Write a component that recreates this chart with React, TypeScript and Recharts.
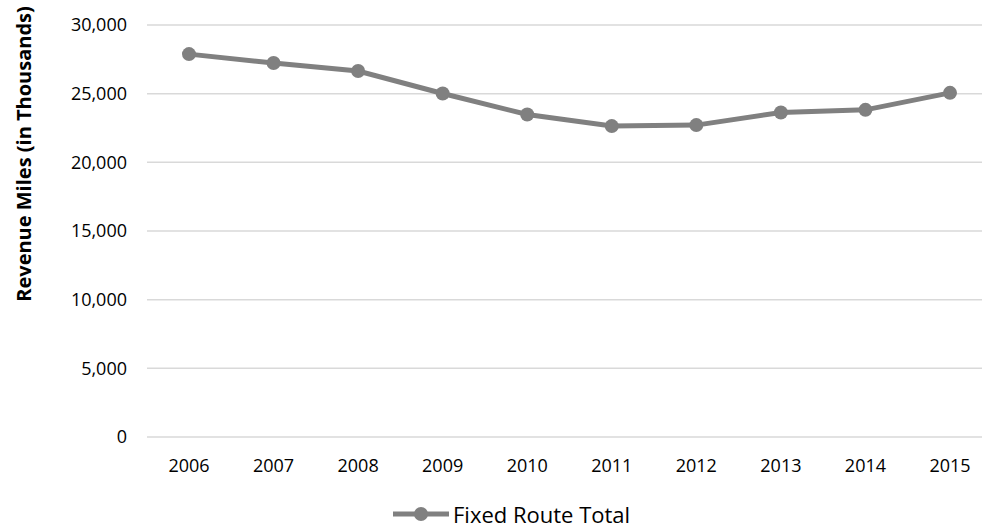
import React from "react";
import { LineChart, Line, XAxis, YAxis, CartesianGrid } from "recharts";

const years = ["2006", "2007", "2008", "2009", "2010", "2011", "2012", "2013", "2014", "2015"];
const fixedRouteTotal = [27880, 27230, 26650, 25010, 23480, 22640, 22710, 23630, 23820, 25060];
const yTicks = [0, 5000, 10000, 15000, 20000, 25000, 30000];

const data = years.map((year, i) => ({ year, total: fixedRouteTotal[i] }));

const FONT = "'Open Sans', sans-serif";
const GREY = "#808080";

function LegendBox() {
  return (
    <div
      style={{
        position: "absolute",
        left: 393,
        top: 499,
        height: 30,
        display: "flex",
        alignItems: "center",
        fontFamily: FONT,
        fontSize: 22,
        lineHeight: "30px",
        color: "#000",
        whiteSpace: "nowrap",
      }}
    >
      <svg width={56} height={18} style={{ marginRight: 4 }}>
        <line x1={0} y1={9} x2={56} y2={9} stroke={GREY} strokeWidth={5} strokeLinecap="round" />
        <circle cx={28} cy={9} r={7} fill={GREY} />
      </svg>
      <span>Fixed Route Total</span>
    </div>
  );
}

function YTitle() {
  return (
    <text
      x={23}
      y={154}
      transform="rotate(-90 23 154)"
      textAnchor="middle"
      dominantBaseline="central"
      fontFamily={FONT}
      fontSize={20}
      fontWeight="bold"
      fill="#000"
    >
      Revenue Miles (in Thousands)
    </text>
  );
}

export default function App() {
  return (
    <div style={{ position: "absolute", left: 0, top: 0, width: 982, height: 529, overflow: "hidden", background: "#fff" }}>
      <LineChart width={992} height={529} data={data} margin={{ top: 25, right: 0, bottom: 0, left: 0 }}>
        <CartesianGrid vertical={false} stroke="#d9d9d9" strokeWidth={1.5} />
        <XAxis
          dataKey="year"
          axisLine={false}
          tickLine={false}
          tickMargin={16}
          interval={0}
          padding={{ left: 42, right: 42 }}
          tick={{ fontFamily: FONT, fontSize: 18, fill: "#000" }}
          height={92}
        />
        <YAxis
          width={147}
          domain={[0, 30000]}
          ticks={yTicks}
          axisLine={false}
          tickLine={false}
          tickMargin={14}
          tickFormatter={(v: number) => v.toLocaleString("en-US")}
          tick={{ fontFamily: FONT, fontSize: 18, fill: "#000" }}
          label={{ content: () => <YTitle /> }}
        />
        <Line
          dataKey="total"
          name="Fixed Route Total"
          stroke={GREY}
          strokeWidth={5}
          dot={{ r: 7, fill: GREY, stroke: "none" }}
          activeDot={false}
          isAnimationActive={false}
        />
      </LineChart>
      <LegendBox />
    </div>
  );
}
